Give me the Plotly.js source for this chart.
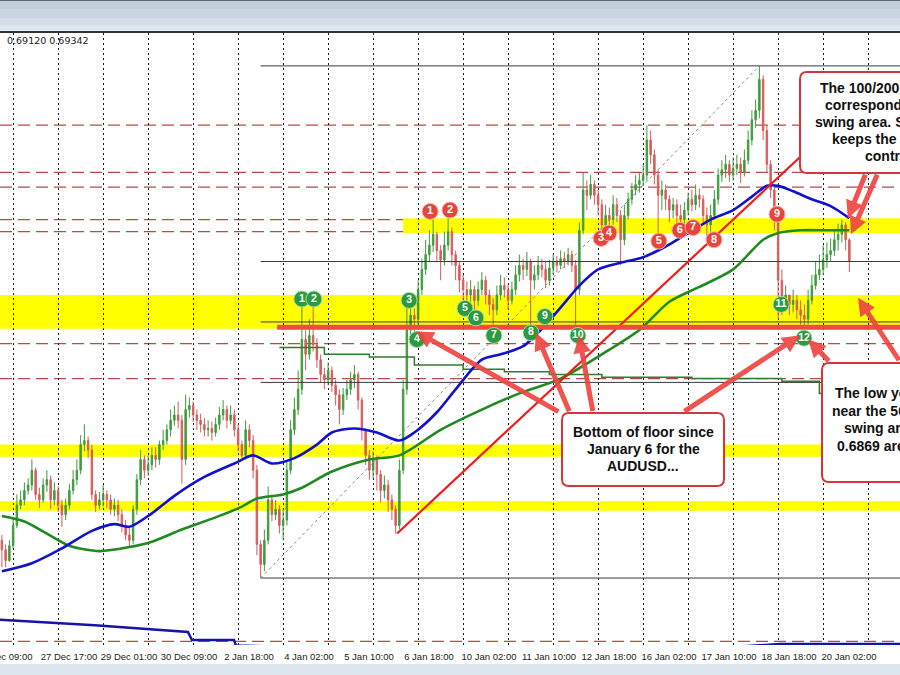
<!DOCTYPE html>
<html>
<head>
<meta charset="utf-8">
<script src="https://cdn.plot.ly/plotly-3.0.1.min.js"></script>
<style>
  html, body { margin: 0; padding: 0; background: #ffffff; }
  #chart { width: 900px; height: 675px; }
</style>
</head>
<body>
<div id="chart"></div>
<script>
// AUDUSD two-hour candles, 26 Dec to 20 Jan
const firstOpen = 0.6711;
const close = [
  0.6704,0.6696,0.6707,0.6722,0.6737,0.6741,0.6748,0.6752,0.6763,0.6745,
  0.6741,0.6752,0.6756,0.6741,0.6748,0.6737,0.6730,0.6737,0.6748,0.6756,
  0.6763,0.6782,0.6785,0.6778,0.6745,0.6737,0.6741,0.6745,0.6741,0.6734,
  0.6737,0.6730,0.6722,0.6715,0.6711,0.6734,0.6756,0.6771,0.6763,0.6767,
  0.6774,0.6771,0.6782,0.6785,0.6793,0.6800,0.6804,0.6800,0.6771,0.6808,
  0.6811,0.6804,0.6800,0.6797,0.6793,0.6794,0.6791,0.6797,0.6804,0.6808,
  0.6800,0.6804,0.6793,0.6782,0.6774,0.6793,0.6785,0.6763,0.6708,0.6693,
  0.6711,0.6741,0.6730,0.6734,0.6722,0.6726,0.6763,0.6793,0.6808,0.6823,
  0.6860,0.6849,0.6863,0.6856,0.6845,0.6834,0.6830,0.6837,0.6826,0.6819,
  0.6808,0.6819,0.6823,0.6830,0.6834,0.6815,0.6793,0.6774,0.6763,0.6771,
  0.6760,0.6748,0.6752,0.6741,0.6734,0.6722,0.6763,0.6823,0.6867,0.6878,
  0.6875,0.6897,0.6912,0.6923,0.6930,0.6938,0.6926,0.6919,0.6930,0.6940,
  0.6923,0.6915,0.6904,0.6897,0.6893,0.6897,0.6889,0.6897,0.6904,0.6893,
  0.6886,0.6882,0.6893,0.6900,0.6897,0.6889,0.6897,0.6908,0.6915,0.6912,
  0.6918,0.6904,0.6908,0.6915,0.6912,0.6904,0.6913,0.6918,0.6915,0.6920,
  0.6918,0.6923,0.6915,0.6897,0.6941,0.6971,0.6967,0.6975,0.6967,0.6960,
  0.6945,0.6952,0.6949,0.6960,0.6952,0.6934,0.6952,0.6964,0.6971,0.6975,
  0.6978,0.6982,0.7008,0.6997,0.6982,0.6967,0.6971,0.6964,0.6956,0.6960,
  0.6952,0.6949,0.6956,0.6964,0.6960,0.6967,0.6964,0.6952,0.6945,0.6952,
  0.6964,0.6982,0.6986,0.6990,0.6982,0.6987,0.6990,0.6984,0.6993,0.7008,
  0.7023,0.7030,0.7053,0.7015,0.6990,0.6971,0.6952,0.6904,0.6889,0.6893,
  0.6886,0.6889,0.6882,0.6878,0.6875,0.6889,0.6900,0.6908,0.6912,0.6919,
  0.6923,0.6926,0.6934,0.6938,0.6945,0.6934,0.6918
];
const high = [
  0.6715,0.6708,0.6711,0.6728,0.6745,0.6748,0.6754,0.6757,0.6771,0.6765,
  0.6750,0.6757,0.6763,0.6759,0.6754,0.6751,0.6741,0.6742,0.6753,0.6763,
  0.6771,0.6789,0.6797,0.6788,0.6782,0.6748,0.6747,0.6752,0.6748,0.6745,
  0.6742,0.6741,0.6734,0.6726,0.6720,0.6737,0.6760,0.6778,0.6774,0.6774,
  0.6780,0.6780,0.6785,0.6793,0.6797,0.6808,0.6811,0.6814,0.6804,0.6819,
  0.6817,0.6814,0.6808,0.6805,0.6802,0.6800,0.6799,0.6802,0.6810,0.6815,
  0.6811,0.6811,0.6808,0.6797,0.6785,0.6800,0.6797,0.6789,0.6767,0.6711,
  0.6719,0.6751,0.6745,0.6741,0.6737,0.6734,0.6769,0.6800,0.6817,0.6837,
  0.6886,0.6867,0.6875,0.6886,0.6861,0.6849,0.6839,0.6843,0.6840,0.6830,
  0.6823,0.6824,0.6830,0.6836,0.6841,0.6836,0.6817,0.6794,0.6778,0.6777,
  0.6774,0.6763,0.6759,0.6756,0.6745,0.6737,0.6771,0.6830,0.6889,0.6886,
  0.6883,0.6904,0.6920,0.6934,0.6941,0.6949,0.6940,0.6930,0.6940,0.6950,
  0.6943,0.6926,0.6918,0.6908,0.6903,0.6904,0.6900,0.6903,0.6910,0.6907,
  0.6897,0.6891,0.6900,0.6908,0.6906,0.6901,0.6903,0.6915,0.6923,0.6920,
  0.6925,0.6920,0.6915,0.6922,0.6920,0.6918,0.6919,0.6923,0.6922,0.6926,
  0.6925,0.6928,0.6926,0.6919,0.6947,0.6984,0.6978,0.6982,0.6978,0.6971,
  0.6964,0.6960,0.6958,0.6967,0.6965,0.6956,0.6960,0.6969,0.6976,0.6982,
  0.6984,0.6990,0.7019,0.7015,0.7001,0.6986,0.6978,0.6975,0.6967,0.6965,
  0.6964,0.6960,0.6962,0.6969,0.6971,0.6975,0.6972,0.6967,0.6958,0.6960,
  0.6971,0.6987,0.6993,0.6997,0.6993,0.6995,0.6997,0.6995,0.7001,0.7015,
  0.7030,0.7038,0.7063,0.7056,0.7019,0.6993,0.6975,0.6956,0.6912,0.6900,
  0.6891,0.6897,0.6893,0.6889,0.6886,0.6897,0.6908,0.6918,0.6923,0.6930,
  0.6932,0.6935,0.6941,0.6946,0.6949,0.6947,0.6935
];
const low = [
  0.6691,0.6691,0.6695,0.6705,0.6720,0.6734,0.6737,0.6745,0.6748,0.6741,
  0.6735,0.6739,0.6747,0.6734,0.6737,0.6732,0.6721,0.6726,0.6734,0.6745,
  0.6752,0.6760,0.6777,0.6772,0.6741,0.6732,0.6734,0.6736,0.6735,0.6730,
  0.6729,0.6725,0.6717,0.6711,0.6706,0.6708,0.6730,0.6752,0.6757,0.6759,
  0.6763,0.6765,0.6767,0.6778,0.6782,0.6788,0.6796,0.6794,0.6753,0.6767,
  0.6802,0.6799,0.6793,0.6791,0.6788,0.6788,0.6785,0.6788,0.6793,0.6800,
  0.6794,0.6797,0.6788,0.6777,0.6772,0.6771,0.6780,0.6757,0.6700,0.6683,
  0.6688,0.6708,0.6725,0.6726,0.6716,0.6711,0.6722,0.6760,0.6789,0.6804,
  0.6819,0.6837,0.6845,0.6851,0.6839,0.6828,0.6823,0.6826,0.6821,0.6811,
  0.6797,0.6804,0.6815,0.6819,0.6824,0.6808,0.6785,0.6767,0.6756,0.6757,
  0.6748,0.6739,0.6742,0.6732,0.6726,0.6716,0.6719,0.6760,0.6819,0.6860,
  0.6860,0.6871,0.6893,0.6908,0.6918,0.6925,0.6918,0.6904,0.6915,0.6926,
  0.6915,0.6904,0.6895,0.6889,0.6880,0.6888,0.6875,0.6885,0.6893,0.6886,
  0.6878,0.6863,0.6878,0.6889,0.6891,0.6882,0.6886,0.6893,0.6903,0.6904,
  0.6907,0.6865,0.6897,0.6904,0.6906,0.6898,0.6900,0.6908,0.6910,0.6912,
  0.6913,0.6915,0.6910,0.6863,0.6893,0.6938,0.6956,0.6964,0.6960,0.6952,
  0.6934,0.6940,0.6943,0.6945,0.6947,0.6915,0.6930,0.6949,0.6960,0.6967,
  0.6969,0.6974,0.6978,0.6990,0.6975,0.6930,0.6956,0.6956,0.6947,0.6950,
  0.6945,0.6940,0.6943,0.6952,0.6955,0.6956,0.6958,0.6947,0.6930,0.6940,
  0.6949,0.6960,0.6977,0.6980,0.6977,0.6978,0.6982,0.6976,0.6981,0.6990,
  0.7004,0.7017,0.7024,0.7008,0.6984,0.6965,0.6941,0.6875,0.6878,0.6883,
  0.6878,0.6880,0.6875,0.6871,0.6861,0.6871,0.6886,0.6897,0.6904,0.6908,
  0.6913,0.6918,0.6922,0.6926,0.6932,0.6926,0.6910
];

// 100-hour (blue) and 200-hour (green) moving averages, sampled by bar
const ma100Bars   = [0,8,16,24,30,34,40,46,54,62,67,72,78,84,88,94,100,106,110,116,121,128,133,139,145,150,154,159,165,171,177,183,189,195,200,204,207,211,216,221,226];
const ma100Prices = [0.6688,0.6694,0.6705,0.6718,0.6723,0.6721,0.6731,0.6744,0.6758,0.6768,0.6774,0.6768,0.6772,0.6782,0.6791,0.6794,0.6791,0.6785,0.6791,0.6806,0.6823,0.6845,0.6849,0.6855,0.6871,0.6887,0.6900,0.6912,0.6917,0.6921,0.6929,0.6939,0.6949,0.6956,0.6966,0.6974,0.6974,0.6970,0.6964,0.6959,0.6950];
const ma200Bars   = [0,6,12,18,26,34,40,48,57,64,68,75,80,88,98,106,117,128,138,149,160,170,178,186,195,203,207,213,220,226];
const ma200Prices = [0.6729,0.6725,0.6716,0.6707,0.6703,0.6706,0.6710,0.6719,0.6728,0.6736,0.6742,0.6745,0.6750,0.6762,0.6771,0.6774,0.6793,0.6808,0.6820,0.6831,0.6849,0.6867,0.6888,0.6899,0.6912,0.6934,0.6939,0.6941,0.6941,0.6941];

// slow stepped line and the long average near the bottom
const stepBars   = [74,86,98,110,123,134,146,160,184,208,218,239.5];
const stepPrices = [0.6854,0.6849,0.6847,0.6841,0.6838,0.6836,0.6834,0.6832,0.6831,0.6829,0.6820,0.6820];
const longBars   = [-0.5,24.8,49.6,50.7,61.9,62.4,74.7,null,195.5,207.5,239.5];
const longPrices = [0.6652,0.6648,0.6643,0.6637,0.6637,0.6633,0.6632,null,0.6632,0.6634,0.6634];

// Fibonacci retracement of the 3 Jan low to the 18 Jan high
const fibLowBar = 69, fibLow = 0.6683;
const fibHighBar = 202, fibHigh = 0.7063;
const fibRatios = [0, 0.382, 0.5, 0.618, 1];

// trend line from the 6 Jan low, and the floor level
const trendBars = [105.4, 215];
const trendPrices = [0.6716, 0.7001];
const floorBars = [73.4, 239.5];
const floorPrices = [0.6869, 0.6869];

// horizontal levels and yellow zones
const dashLevels = [0.7019,0.6984,0.6973,0.6949,0.6940,0.6892,0.6871,0.6857,0.6831,0.6780,0.6774,0.6739,0.6735,0.6636];
const zoneStart = [107, -0.5, -0.5, -0.5];
const zoneLow   = [0.6939, 0.6868, 0.6773, 0.6733];
const zoneHigh  = [0.6950, 0.6893, 0.6782, 0.6740];

// numbered touches: red = tops of the range, green = tests of the floor
const redBars   = [114.2,119.5,159.8,161.9,175.2,180.8,184.3,189.9,206.7];
const redPrices = [0.6955,0.6956,0.6935,0.6939,0.6933,0.6941,0.6943,0.6934,0.6953];
const redText   = ['1','2','3','4','5','6','7','8','9'];
const greenBars   = [80.0,83.2,108.6,110.7,123.5,126.4,131.2,141.1,144.8,153.6,207.8,213.9];
const greenPrices = [0.6890,0.6890,0.6889,0.6860,0.6883,0.6876,0.6863,0.6865,0.6877,0.6863,0.6886,0.6861];
const greenText   = ['1','2','3','4','5','6','7','8','9','10','11','12'];

// time axis labels
const tickLabels = ['26 Dec 09:00','27 Dec 17:00','29 Dec 01:00','30 Dec 09:00','2 Jan 18:00','4 Jan 02:00','5 Jan 10:00','6 Jan 18:00','10 Jan 02:00','11 Jan 10:00','12 Jan 18:00','16 Jan 02:00','17 Jan 10:00','18 Jan 18:00','20 Jan 02:00'];
const tickBars = tickLabels.map((_, j) => 1.9 + 16 * j);

// ---------------------------------------------------------------
const bars = close.map((_, i) => i);
const open = close.map((c, i) => (i === 0 ? firstOpen : close[i - 1]));
const X0 = -0.5, X1 = 239.5;
const Y0 = 0.663331, Y1 = 0.708741;

// pixel helpers for frame pieces and callouts (plot spans y 33..645)
const px = X => X / 900;
const py = Y => (645 - Y) / 612;

function roundRect(x0, y0, x1, y1, r) {
  const P = (X, Y) => px(X).toFixed(5) + ',' + py(Y).toFixed(5);
  return 'M ' + P(x0 + r, y0) + ' L ' + P(x1 - r, y0) + ' Q ' + P(x1, y0) + ' ' + P(x1, y0 + r) +
         ' L ' + P(x1, y1 - r) + ' Q ' + P(x1, y1) + ' ' + P(x1 - r, y1) +
         ' L ' + P(x0 + r, y1) + ' Q ' + P(x0, y1) + ' ' + P(x0, y1 - r) +
         ' L ' + P(x0, y0 + r) + ' Q ' + P(x0, y0) + ' ' + P(x0 + r, y0) + ' Z';
}

const traces = [];
traces.push({
  type: 'candlestick', x: bars, open: open, high: high, low: low, close: close,
  increasing: { line: { color: '#3f9b3f', width: 1 }, fillcolor: '#3f9b3f' },
  decreasing: { line: { color: '#d65c5c', width: 1 }, fillcolor: '#d65c5c' },
  whiskerwidth: 0, hoverinfo: 'skip', showlegend: false
});
// Fibonacci levels
fibRatios.forEach(r => {
  const p = fibHigh - r * (fibHigh - fibLow);
  traces.push({ type: 'scatter', mode: 'lines', x: [fibLowBar, X1], y: [p, p],
    line: { color: '#3a3a3a', width: 1 }, hoverinfo: 'skip', showlegend: false });
});
traces.push({ type: 'scatter', mode: 'lines', x: [fibLowBar, fibHighBar], y: [fibLow, fibHigh],
  line: { color: '#8a8a8a', width: 1, dash: '3px,3px' }, hoverinfo: 'skip', showlegend: false });
traces.push({ type: 'scatter', mode: 'lines', x: stepBars, y: stepPrices,
  line: { color: '#2d7d2d', width: 1.5, shape: 'hv' }, hoverinfo: 'skip', showlegend: false });
traces.push({ type: 'scatter', mode: 'lines', x: longBars, y: longPrices, connectgaps: false,
  line: { color: '#1414a8', width: 2.5 }, hoverinfo: 'skip', showlegend: false });
traces.push({ type: 'scatter', mode: 'lines', x: ma200Bars, y: ma200Prices,
  line: { color: '#1f8a1f', width: 2.6, shape: 'spline', smoothing: 0.8 }, hoverinfo: 'skip', showlegend: false });
traces.push({ type: 'scatter', mode: 'lines', x: ma100Bars, y: ma100Prices,
  line: { color: '#1212cc', width: 2.6, shape: 'spline', smoothing: 0.8 }, hoverinfo: 'skip', showlegend: false });
traces.push({ type: 'scatter', mode: 'lines', x: trendBars, y: trendPrices,
  line: { color: '#ee1c1c', width: 2.2 }, hoverinfo: 'skip', showlegend: false });
traces.push({ type: 'scatter', mode: 'lines', x: floorBars, y: floorPrices,
  line: { color: '#f04a42', width: 5 }, hoverinfo: 'skip', showlegend: false });
traces.push({ type: 'scatter', mode: 'markers+text', x: redBars, y: redPrices, text: redText,
  marker: { size: 16, color: '#e5463c', line: { color: '#f6b0a8', width: 1 } },
  textfont: { family: 'Liberation Sans', size: 11, color: '#ffffff', weight: 'bold' },
  textposition: 'middle center', hoverinfo: 'skip', showlegend: false });
traces.push({ type: 'scatter', mode: 'markers+text', x: greenBars, y: greenPrices, text: greenText,
  marker: { size: 16, color: '#2c9a3e', line: { color: '#a8d8b0', width: 1 } },
  textfont: { family: 'Liberation Sans', size: 10.5, color: '#ffffff', weight: 'bold' },
  textposition: 'middle center', hoverinfo: 'skip', showlegend: false });
// carrier for the date axis
traces.push({ type: 'scatter', mode: 'markers', x: [tickBars[0]], y: [null], xaxis: 'x2', yaxis: 'y',
  hoverinfo: 'skip', showlegend: false });

const shapes = [];
// window strip above the chart
[[0, 1, '#5d6773'], [1, 9, '#c1cedb'], [9, 18, '#c9d5e1'], [18, 25, '#d2dde8'], [25, 30, '#dee6ef'], [30, 31, '#eef2f6'], [31, 33, '#333333']]
  .forEach(s => shapes.push({ type: 'rect', xref: 'paper', yref: 'paper', x0: 0, x1: 1, y0: py(s[1]), y1: py(s[0]),
    fillcolor: s[2], line: { width: 0 }, layer: 'above' }));
// strip below the date labels
shapes.push({ type: 'rect', xref: 'paper', yref: 'paper', x0: 0, x1: 1, y0: py(675), y1: py(664),
  fillcolor: '#dde6ef', line: { width: 0 }, layer: 'above' });
// yellow zones
zoneLow.forEach((lo, i) => shapes.push({ type: 'rect', xref: 'x', yref: 'y', x0: zoneStart[i], x1: X1,
  y0: lo, y1: zoneHigh[i], fillcolor: '#ffff00', line: { width: 0 }, layer: 'below' }));
// dashed levels
dashLevels.forEach(lv => shapes.push({ type: 'line', xref: 'paper', yref: 'y', x0: 0, x1: 1, y0: lv, y1: lv,
  line: { color: '#b84a48', width: 1.3, dash: '12px,6px' }, layer: 'below' }));
// callout boxes
[[800, 72, 960, 173], [562, 413, 724, 486], [822, 363, 980, 482]].forEach(b => shapes.push({
  type: 'path', xref: 'paper', yref: 'paper', path: roundRect(b[0], b[1], b[2], b[3], 7),
  fillcolor: '#ffffff', line: { color: '#d2383a', width: 2 }, layer: 'above' }));

const annotations = [];
const boxFont = { family: 'Liberation Sans', size: 14, color: '#111111' };
function note(text, X, Y, anchor) {
  annotations.push({ text: '<b>' + text + '</b>', xref: 'paper', yref: 'paper', x: px(X), y: py(Y),
    xanchor: anchor, yanchor: 'middle', showarrow: false, font: boxFont });
}
note('The 100/200 hour MAs', 818, 88, 'left');
note('correspond with the', 823, 105, 'left');
note('swing area. Stay below', 813, 122, 'left');
note('keeps the sellers in', 830, 139, 'left');
note('control', 863, 156, 'left');
note('Bottom of floor since', 643, 432, 'center');
note('January 6 for the', 643, 449, 'center');
note('AUDUSD...', 643, 466, 'center');
note('The low yesterday', 833, 393, 'left');
note('near the 50% of the', 830, 411, 'left');
note('swing area at', 842, 428, 'left');
note('0.6869 area held', 835, 446, 'left');

annotations.push({ text: '0.69120 0.69342', xref: 'paper', yref: 'paper', x: px(5), y: py(41),
  xanchor: 'left', yanchor: 'middle', showarrow: false,
  font: { family: 'DejaVu Sans', size: 9.5, color: '#1a1a1a' } });
// first date label runs off the left edge
annotations.push({ text: tickLabels[0], xref: 'paper', yref: 'paper', x: px(35), y: py(656),
  xanchor: 'right', yanchor: 'middle', showarrow: false,
  font: { family: 'Liberation Sans', size: 9.5, color: '#222222' } });

// callout arrows: [bar, price, tail dx, tail dy]
const arrows = [
  [225.6, 0.6950, 18, -45], [226.4, 0.6938, 27, -61],
  [110.4, 0.6866, 144, 81], [142.4, 0.6865, 34, 80], [153.9, 0.6863, 14, 77], [212.8, 0.6863, -117, 77],
  [228.3, 0.6891, 57, 64], [215.0, 0.6860, 22, 23]
];
arrows.forEach(a => annotations.push({ x: a[0], y: a[1], xref: 'x', yref: 'y', ax: a[2], ay: a[3],
  text: '', showarrow: true, arrowhead: 2, arrowsize: 0.7, arrowwidth: 5, arrowcolor: 'rgba(238,70,66,0.92)',
  standoff: 0 }));

const layout = {
  width: 900, height: 675,
  margin: { l: 0, r: 0, t: 33, b: 30, pad: 0 },
  paper_bgcolor: '#ffffff', plot_bgcolor: '#ffffff',
  showlegend: false,
  boxgap: 0.45,
  xaxis: { range: [X0, X1], rangeslider: { visible: false }, tickmode: 'linear', tick0: 3, dtick: 12,
    showgrid: true, gridcolor: '#1a1a1a', gridwidth: 1, griddash: '2px,3px',
    showticklabels: false, ticks: '', zeroline: false, showline: false, fixedrange: true },
  xaxis2: { overlaying: 'x', anchor: 'y', side: 'bottom', range: [X0, X1], tickmode: 'array',
    tickvals: tickBars, ticktext: tickLabels, showgrid: false, zeroline: false, showline: false, ticks: '',
    ticklabelstandoff: 4,
    tickfont: { family: 'Liberation Sans', size: 9.5, color: '#222222' }, fixedrange: true },
  yaxis: { range: [Y0, Y1], showgrid: false, zeroline: false, showticklabels: false, ticks: '',
    showline: false, fixedrange: true },
  shapes: shapes,
  annotations: annotations
};

Plotly.newPlot('chart', traces, layout, { staticPlot: true, displayModeBar: false });
</script>
</body>
</html>
